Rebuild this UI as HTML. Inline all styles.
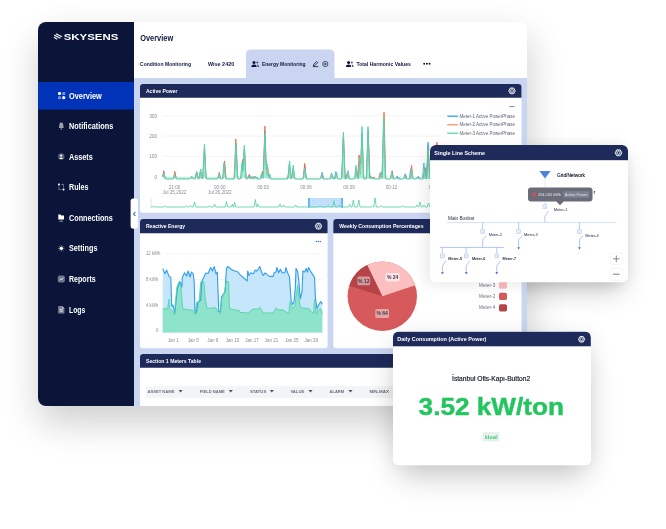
<!DOCTYPE html>
<html lang="en"><head><meta charset="utf-8"><title>Skysens Overview</title>
<style>
html,body{margin:0;padding:0;background:#fff;}
body{width:666px;height:529px;overflow:hidden;position:relative;font-family:"Liberation Sans",sans-serif;}
svg{position:absolute;left:0;top:0;display:block}
svg text{font-family:"Liberation Sans",sans-serif;white-space:pre}
.sh{position:absolute;}
</style></head><body>
<div class="sh" style="left:430px;top:145px;width:198px;height:137px;border-radius:6px;box-shadow:0 14px 26px -6px rgba(0,0,0,0.22), 0 0 18px rgba(0,0,0,0.045)"></div>
<div class="sh" style="left:38px;top:22px;width:489px;height:384px;border-radius:8px;box-shadow:0 18px 36px rgba(0,0,0,0.16), 8px 8px 46px rgba(0,0,0,0.045);background:#fff"></div>
<svg width="666" height="529" viewBox="0 0 666 529">
<defs><clipPath id="win"><rect x="38" y="22" width="489" height="384" rx="8" ry="8"/></clipPath><clipPath id="apclip"><rect x="160" y="100" width="361" height="112"/></clipPath><clipPath id="apclip2"><rect x="160" y="100" width="361" height="78.4"/></clipPath><pattern id="dots" width="2" height="2" patternUnits="userSpaceOnUse"><rect width="2" height="2" fill="#c4e2fb"/><rect width="1" height="1" fill="#b3d9f9"/></pattern></defs>
<g clip-path="url(#win)">
<rect x="38" y="22" width="489" height="384" fill="#fff"/>
<rect x="134" y="78" width="393" height="328" fill="#cad6f1"/>
<rect x="38" y="22" width="96" height="384" fill="#0a1539"/>
<rect x="38" y="82" width="96" height="27.5" fill="#0033b7"/>
<g stroke="#fff" stroke-width="1.25" stroke-linecap="butt" opacity="0.95"><path d="M56 33.7 L61.9 36.7 M54.3 35.1 L60.4 38.3 M53.9 37.3 L57.3 39.3" /></g>
<text x="63.7" y="40" font-size="8.7" font-weight="700" fill="#fff" textLength="54.6" lengthAdjust="spacingAndGlyphs">SKYSENS</text>
<text x="69.0" y="98.54" font-size="8.2" font-weight="700" fill="#fff" text-anchor="start" textLength="32.8" lengthAdjust="spacingAndGlyphs" >Overview</text>
<text x="69.0" y="128.94" font-size="8.2" font-weight="700" fill="#fff" text-anchor="start" textLength="44.2" lengthAdjust="spacingAndGlyphs" >Notifications</text>
<text x="69.0" y="159.54" font-size="8.2" font-weight="700" fill="#fff" text-anchor="start" textLength="23.8" lengthAdjust="spacingAndGlyphs" >Assets</text>
<text x="69.0" y="189.94" font-size="8.2" font-weight="700" fill="#fff" text-anchor="start" textLength="19.4" lengthAdjust="spacingAndGlyphs" >Rules</text>
<text x="69.0" y="220.54" font-size="8.2" font-weight="700" fill="#fff" text-anchor="start" textLength="43.8" lengthAdjust="spacingAndGlyphs" >Connections</text>
<text x="69.0" y="251.24" font-size="8.2" font-weight="700" fill="#fff" text-anchor="start" textLength="28.4" lengthAdjust="spacingAndGlyphs" >Settings</text>
<text x="69.0" y="281.94" font-size="8.2" font-weight="700" fill="#fff" text-anchor="start" textLength="26.7" lengthAdjust="spacingAndGlyphs" >Reports</text>
<text x="69.0" y="312.54" font-size="8.2" font-weight="700" fill="#fff" text-anchor="start" textLength="16.2" lengthAdjust="spacingAndGlyphs" >Logs</text>
<rect x="58" y="92" width="3.1" height="3.1" rx="1.3" fill="#fff"/><rect x="62.2" y="92" width="3" height="3" rx="0.6" fill="#fff" opacity="0.45"/><rect x="58" y="96.2" width="3" height="3" rx="0.6" fill="#fff" opacity="0.45"/><circle cx="63.7" cy="97.7" r="1.6" fill="#fff"/>
<path d="M58.9 128 Q59.3 126.6 59.3 125 Q59.3 122.6 61.3 122.6 Q63.3 122.6 63.3 125 Q63.3 126.6 63.7 128 Z" fill="#fff" opacity="0.6"/><rect x="60.5" y="128.6" width="1.6" height="1" rx="0.5" fill="#fff" opacity="0.8"/>
<circle cx="61.2" cy="156.6" r="3.3" fill="#fff" opacity="0.3"/><circle cx="61.2" cy="155.6" r="1.1" fill="#fff"/><path d="M59.3 159 Q61.2 156.2 63.1 159 Z" fill="#fff"/>
<g fill="#fff"><rect x="58" y="183.6" width="1.8" height="1.8" rx="0.4"/><rect x="62.6" y="188.6" width="1.8" height="1.8" rx="0.4"/></g><path d="M61 184.4 H63.5 V187.4 M58.9 186.6 V189.6 H61.4" fill="none" stroke="#fff" stroke-width="0.7" opacity="0.55"/>
<path d="M58.3 214.6 H60.5 L61.2 215.4 H64 V219.6 H58.3 Z" fill="#fff"/><path d="M61.2 219.6 V221.3 M59.3 221.3 H63.1" stroke="#fff" stroke-width="0.7" opacity="0.6"/>
<g stroke="#fff" stroke-width="0.9" opacity="0.42"><path d="M61.3 245 V251.6 M58 248.3 H64.6 M59 246 L63.6 250.6 M63.6 246 L59 250.6"/></g><circle cx="61.3" cy="248.3" r="1.6" fill="#fff"/>
<rect x="57.8" y="275.5" width="7" height="7" rx="1.7" fill="#fff" opacity="0.42"/><path d="M59.6 280.2 L60.9 278.8 L61.8 279.6 L63.2 277.8" stroke="#fff" stroke-width="0.8" fill="none"/>
<path d="M58.2 306 H62.2 L64.4 308.2 V313.4 H58.2 Z" fill="#fff" opacity="0.45"/><path d="M59.6 309.6 H62.8 M59.6 311.2 H62.8" stroke="#fff" stroke-width="0.7"/><path d="M62.2 306.3 V308.2 H64.1 Z" fill="#fff" opacity="0.85"/>
<text x="140.2" y="41.34" font-size="8.2" font-weight="700" fill="#0f1940" text-anchor="start" textLength="33.0" lengthAdjust="spacingAndGlyphs" >Overview</text>
<path d="M246 78 V54.6 Q246 49.6 251 49.6 H329.5 Q334.5 49.6 334.5 54.6 V78 Z" fill="#cad6f1"/>
<text x="140.0" y="65.93" font-size="5.4" font-weight="700" fill="#0f1940" text-anchor="start" textLength="51.0" lengthAdjust="spacingAndGlyphs" >Condition Monitoring</text>
<text x="208.0" y="65.93" font-size="5.4" font-weight="700" fill="#0f1940" text-anchor="start" textLength="26.2" lengthAdjust="spacingAndGlyphs" >Wise 2420</text>
<g fill="#0f1940"><circle cx="254.0" cy="62.4" r="1.5"/><path d="M251.4 66.9 Q251.4 64.5 254.0 64.5 Q256.6 64.5 256.6 66.9 Z"/><circle cx="257.3" cy="62.6" r="1" opacity="0.7"/><path d="M257.2 64.6 Q259.0 64.6 259.0 66.9 H257.4 Z" opacity="0.7"/></g>
<text x="262.0" y="65.93" font-size="5.4" font-weight="700" fill="#0f1940" text-anchor="start" textLength="43.6" lengthAdjust="spacingAndGlyphs" >Energy Monitoring</text>
<g stroke="#0f172a" stroke-width="0.8" fill="none"><path d="M313.4 65.8 L313.8 64.3 L316.6 61.5 L317.7 62.6 L314.9 65.4 Z"/><path d="M312.8 66.6 H318.2"/></g>
<circle cx="325.3" cy="64" r="2.6" fill="none" stroke="#0f172a" stroke-width="0.7"/><path d="M324.1 64 H326.5 M325.3 62.8 V65.2" stroke="#0f172a" stroke-width="0.7"/>
<g fill="#0f1940"><circle cx="348.6" cy="62.4" r="1.5"/><path d="M346 66.9 Q346 64.5 348.6 64.5 Q351.2 64.5 351.2 66.9 Z"/><circle cx="351.9" cy="62.6" r="1" opacity="0.7"/><path d="M351.8 64.6 Q353.6 64.6 353.6 66.9 H352 Z" opacity="0.7"/></g>
<text x="356.4" y="65.93" font-size="5.4" font-weight="700" fill="#0f1940" text-anchor="start" textLength="54.5" lengthAdjust="spacingAndGlyphs" >Total Harmonic Values</text>
<g fill="#0f172a"><circle cx="424.2" cy="63.8" r="0.95"/><circle cx="426.9" cy="63.8" r="0.95"/><circle cx="429.6" cy="63.8" r="0.95"/></g>
<rect x="140" y="84" width="381.5" height="128.7" rx="3" fill="#fff"/>
<path d="M140 97.7 V87 Q140 84 143 84 H518.5 Q521.5 84 521.5 87 V97.7 Z" fill="#1e2b5a"/>
<text x="146.0" y="92.98" font-size="5.4" font-weight="700" fill="#fff" text-anchor="start" textLength="31.5" lengthAdjust="spacingAndGlyphs" >Active Power</text>
<polygon points="515.30,90.85 513.65,93.71 510.35,93.71 508.70,90.85 510.35,87.99 513.65,87.99" fill="rgba(255,255,255,0.28)" stroke="#fff" stroke-width="0.85" stroke-linejoin="round"/><path d="M513.13 91.50 L514.57 92.33 M512.00 92.15 L512.00 93.82 M510.87 91.50 L509.43 92.33 M510.87 90.20 L509.43 89.36 M512.00 89.55 L512.00 87.88 M513.13 90.20 L514.57 89.36" stroke="#fff" stroke-width="0.5" opacity="0.8"/><circle cx="512" cy="90.85" r="1.25" fill="#1e2b5a" stroke="#fff" stroke-width="0.6"/>
<text x="157.2" y="117.72" font-size="4.8" font-weight="400" fill="#868c97" text-anchor="end" >300</text>
<path d="M162.8 115.8 H444.8" stroke="#e9ebef" stroke-width="0.6"/>
<text x="157.2" y="138.02" font-size="4.8" font-weight="400" fill="#868c97" text-anchor="end" >200</text>
<path d="M162.8 136.10000000000002 H444.8" stroke="#e9ebef" stroke-width="0.6"/>
<text x="157.2" y="158.32" font-size="4.8" font-weight="400" fill="#868c97" text-anchor="end" >100</text>
<path d="M162.8 156.4 H444.8" stroke="#e9ebef" stroke-width="0.6"/>
<text x="157.2" y="178.72" font-size="4.8" font-weight="400" fill="#868c97" text-anchor="end" >0</text>
<path d="M162.8 176.8 H444.8" stroke="#e9ebef" stroke-width="0.6"/>
<path d="M509.4 106.6 H514.5" stroke="#4a7bd6" stroke-width="0.9"/>
<path d="M447.3 116.3 H458" stroke="#45b0f6" stroke-width="1.5"/>
<text x="459.4" y="117.95" font-size="4.6" font-weight="400" fill="#5f6673" text-anchor="start" textLength="55.6" lengthAdjust="spacingAndGlyphs" >Meter-1 Active PowerPhase</text>
<path d="M447.3 124.8 H458" stroke="#f2643a" stroke-width="0.9"/>
<text x="459.4" y="126.45" font-size="4.6" font-weight="400" fill="#5f6673" text-anchor="start" textLength="55.6" lengthAdjust="spacingAndGlyphs" >Meter-2 Active PowerPhase</text>
<path d="M447.3 133.3 H458" stroke="#74dab8" stroke-width="1.4"/>
<text x="459.4" y="134.95" font-size="4.6" font-weight="400" fill="#5f6673" text-anchor="start" textLength="55.6" lengthAdjust="spacingAndGlyphs" >Meter-3 Active PowerPhase</text>
<text x="174.5" y="188.75" font-size="4.6" font-weight="400" fill="#868c97" text-anchor="middle" >21:00</text>
<text x="219.8" y="188.75" font-size="4.6" font-weight="400" fill="#868c97" text-anchor="middle" >00:00</text>
<text x="263.0" y="188.75" font-size="4.6" font-weight="400" fill="#868c97" text-anchor="middle" >00:03</text>
<text x="306.0" y="188.75" font-size="4.6" font-weight="400" fill="#868c97" text-anchor="middle" >00:06</text>
<text x="349.0" y="188.75" font-size="4.6" font-weight="400" fill="#868c97" text-anchor="middle" >00:09</text>
<text x="391.5" y="188.75" font-size="4.6" font-weight="400" fill="#868c97" text-anchor="middle" >00:12</text>
<text x="434.6" y="188.75" font-size="4.6" font-weight="400" fill="#868c97" text-anchor="middle" >00:15</text>
<text x="174.5" y="193.95" font-size="4.6" font-weight="400" fill="#868c97" text-anchor="middle" >Jul 25,2022</text>
<text x="219.8" y="193.95" font-size="4.6" font-weight="400" fill="#868c97" text-anchor="middle" >Jul 26,2022</text>
<g clip-path="url(#apclip)" fill="none" stroke-linejoin="round">
<polyline points="162.8,177.0 163.2,175.1 163.6,172.9 163.8,171.8 164.0,172.8 164.4,174.9 164.8,176.9 165.2,178.7 165.6,179.2 166.0,179.2 166.4,179.2 166.8,179.2 167.2,179.2 167.6,179.2 168.0,179.2 168.4,179.2 168.8,179.2 169.2,179.2 169.6,179.2 170.0,179.2 170.4,179.2 170.8,179.2 171.2,179.2 171.6,179.2 172.0,179.2 172.4,179.2 172.8,179.2 173.2,179.2 173.6,179.2 174.0,178.0 174.4,176.5 174.8,174.9 175.1,173.5 175.2,173.8 175.6,175.5 176.0,177.0 176.4,178.5 176.8,179.2 177.2,179.2 177.6,179.2 178.0,179.2 178.4,179.2 178.8,179.2 179.2,179.2 179.6,179.2 180.0,179.2 180.4,179.2 180.8,179.2 181.2,179.2 181.6,179.2 182.0,179.2 182.4,179.2 182.8,179.2 183.2,179.2 183.6,179.2 184.0,179.2 184.4,179.2 184.8,179.2 185.2,179.2 185.6,179.2 186.0,179.2 186.4,179.2 186.8,179.2 187.2,179.2 187.6,179.2 188.0,179.2 188.4,179.2 188.8,179.2 189.2,179.2 189.6,179.2 190.0,179.2 190.4,179.2 190.8,179.0 191.2,178.5 191.6,178.0 192.0,177.4 192.0,177.3 192.4,177.8 192.8,178.4 193.2,178.8 193.6,179.2 194.0,179.2 194.4,179.2 194.8,179.2 195.2,179.1 195.6,177.6 196.0,175.8 196.4,173.8 196.7,172.3 196.8,172.7 197.2,174.8 197.6,176.6 198.0,178.4 198.4,179.2 198.8,178.9 199.2,177.1 199.6,175.2 200.0,173.0 200.2,171.7 200.4,172.6 200.8,174.7 201.2,176.7 201.6,178.5 202.0,179.2 202.4,179.2 202.8,179.2 203.2,174.8 203.6,167.6 204.0,159.7 204.4,151.4 204.6,147.7 204.8,152.6 205.2,160.9 205.6,168.7 206.0,175.7 206.4,179.2 206.8,179.2 207.2,179.2 207.6,179.2 208.0,179.2 208.4,179.2 208.8,179.2 209.2,179.2 209.6,179.2 210.0,179.2 210.4,179.2 210.8,179.2 211.2,179.2 211.6,179.2 212.0,179.2 212.4,179.2 212.8,179.2 213.2,179.2 213.6,179.2 214.0,179.2 214.4,179.2 214.8,179.2 215.2,179.2 215.6,179.2 216.0,179.2 216.4,179.2 216.8,179.2 217.2,179.2 217.6,178.7 218.0,177.5 218.4,176.2 218.8,174.7 218.9,174.3 219.2,175.3 219.6,176.7 220.0,178.0 220.4,179.1 220.8,179.2 221.2,179.2 221.6,179.2 222.0,179.2 222.4,179.2 222.8,179.1 223.2,175.7 223.6,171.6 224.0,167.2 224.4,162.8 224.4,163.2 224.8,167.8 225.2,172.1 225.6,176.2 226.0,179.2 226.4,179.2 226.8,179.2 227.2,179.2 227.6,179.2 228.0,179.2 228.4,179.2 228.8,179.2 229.2,179.2 229.6,179.2 230.0,179.2 230.4,179.2 230.8,179.2 231.2,179.2 231.6,179.2 232.0,179.2 232.4,179.2 232.8,179.2 233.2,179.2 233.6,179.2 234.0,179.2 234.4,179.2 234.8,173.1 235.2,164.9 235.6,156.1 236.0,146.8 236.1,143.6 236.4,149.9 236.8,159.1 237.2,167.8 237.6,175.6 238.0,179.2 238.4,179.2 238.8,179.2 239.2,179.2 239.6,179.2 240.0,179.2 240.4,179.2 240.8,179.2 241.2,178.3 241.6,175.1 242.0,171.6 242.4,167.8 242.6,165.6 242.8,167.3 243.2,171.1 243.6,166.9 244.0,158.9 244.4,150.5 244.5,147.5 244.8,153.0 245.2,161.3 245.6,169.1 246.0,176.2 246.4,179.2 246.8,179.2 247.2,179.0 247.6,178.1 248.0,177.0 248.4,176.0 248.6,175.4 248.8,176.0 249.2,177.1 249.6,178.1 250.0,179.0 250.4,178.4 250.8,177.7 251.2,177.0 251.3,176.8 251.6,177.3 252.0,178.0 252.4,178.6 252.8,179.2 253.2,179.2 253.6,178.9 254.0,178.5 254.4,177.9 254.8,177.4 254.8,177.4 255.2,177.9 255.6,178.4 256.0,178.9 256.4,179.2 256.8,179.2 257.2,179.2 257.6,179.2 258.0,179.2 258.4,179.2 258.8,179.2 259.2,179.2 259.6,179.2 260.0,178.8 260.4,177.6 260.8,176.3 261.2,174.9 261.3,174.4 261.6,175.3 262.0,176.7 262.4,178.0 262.8,179.1 263.2,178.6 263.6,169.3 264.0,158.4 264.4,146.6 264.8,134.3 264.9,131.6 265.2,141.5 265.6,153.5 266.0,164.8 266.4,162.0 266.5,161.0 266.8,165.1 267.2,170.0 267.6,174.6 268.0,178.6 268.4,179.1 268.8,178.0 269.2,176.8 269.6,175.4 269.9,174.4 270.0,174.8 270.4,176.2 270.8,177.5 271.2,178.7 271.6,179.2 272.0,179.2 272.4,179.2 272.8,179.2 273.2,179.2 273.6,179.2 274.0,179.2 274.4,179.2 274.8,179.2 275.2,179.2 275.6,179.2 276.0,179.2 276.4,179.2 276.8,179.2 277.2,179.2 277.6,179.2 278.0,179.2 278.4,179.2 278.8,179.2 279.2,179.2 279.6,179.2 280.0,179.2 280.4,179.2 280.8,179.2 281.2,179.2 281.6,179.2 282.0,179.2 282.4,179.2 282.8,179.2 283.2,179.2 283.6,179.2 284.0,179.2 284.4,179.2 284.8,179.2 285.2,179.2 285.6,179.2 286.0,179.2 286.4,179.2 286.8,179.2 287.2,179.2 287.6,179.2 288.0,176.6 288.4,172.9 288.8,168.9 289.2,164.6 289.2,164.3 289.6,168.2 290.0,172.2 290.4,176.0 290.8,179.1 291.2,179.2 291.6,179.2 292.0,178.4 292.4,175.9 292.8,173.1 293.2,170.2 293.4,168.8 293.6,170.4 294.0,173.4 294.4,176.1 294.8,178.5 295.2,179.2 295.6,179.2 296.0,179.2 296.4,179.2 296.8,179.2 297.2,179.2 297.6,179.2 298.0,179.2 298.4,179.2 298.8,179.2 299.2,179.2 299.6,179.2 300.0,179.2 300.4,179.2 300.8,179.2 301.2,179.2 301.6,179.2 302.0,179.2 302.4,179.2 302.8,179.2 303.2,179.2 303.6,176.8 304.0,173.3 304.4,169.6 304.8,165.6 304.8,165.3 305.2,168.9 305.6,172.7 306.0,176.2 306.4,179.1 306.8,179.2 307.2,179.2 307.6,179.2 308.0,179.2 308.4,179.2 308.8,179.2 309.2,179.2 309.6,179.2 310.0,179.2 310.4,179.2 310.8,179.2 311.2,179.2 311.6,179.2 312.0,179.2 312.4,179.2 312.8,179.2 313.2,179.2 313.6,179.2 314.0,179.2 314.4,179.2 314.8,179.2 315.2,179.2 315.6,179.2 316.0,179.2 316.4,179.2 316.8,179.2 317.2,179.2 317.6,179.2 318.0,179.2 318.4,179.2 318.8,179.2 319.2,179.2 319.6,179.2 320.0,179.2 320.4,179.2 320.8,178.6 321.2,176.9 321.6,175.0 322.0,172.9 322.2,172.0 322.4,173.2 322.8,175.3 323.2,177.2 323.6,178.8 324.0,179.2 324.4,179.2 324.8,179.2 325.2,179.2 325.6,179.2 326.0,179.2 326.4,179.2 326.8,179.2 327.2,179.2 327.6,179.2 328.0,179.2 328.4,179.2 328.8,179.2 329.2,179.2 329.6,179.2 330.0,178.2 330.4,176.9 330.8,175.5 331.2,174.2 331.2,174.4 331.6,175.8 332.0,177.2 332.4,178.5 332.8,179.2 333.2,179.2 333.6,179.2 334.0,179.2 334.4,178.6 334.8,176.8 335.2,174.7 335.6,172.5 335.8,171.4 336.0,172.6 336.4,174.8 336.8,176.9 337.2,178.7 337.6,179.2 338.0,179.2 338.4,179.2 338.8,179.2 339.2,179.2 339.6,179.2 340.0,179.2 340.4,179.2 340.8,179.2 341.2,179.2 341.6,178.6 342.0,170.5 342.4,161.0 342.8,150.7 343.2,140.0 343.3,137.9 343.6,146.6 344.0,157.0 344.4,166.8 344.8,175.7 345.2,179.2 345.6,179.2 346.0,179.2 346.4,179.2 346.8,178.1 347.2,176.1 347.6,173.8 348.0,171.3 348.1,170.7 348.4,172.6 348.8,175.0 349.2,177.2 349.6,179.1 350.0,179.2 350.4,179.2 350.8,179.2 351.2,179.2 351.6,179.2 352.0,179.2 352.4,179.2 352.8,179.2 353.2,179.2 353.6,179.2 354.0,179.2 354.4,179.2 354.8,178.5 355.2,176.1 355.6,173.4 356.0,170.5 356.2,168.9 356.4,170.4 356.8,173.3 357.2,176.0 357.6,178.4 358.0,179.2 358.4,176.1 358.8,172.3 359.2,168.3 359.6,164.2 359.6,164.3 360.0,168.6 360.4,172.7 360.8,168.4 361.2,157.7 361.6,146.3 362.0,134.3 362.0,133.2 362.4,144.2 362.8,155.7 363.2,166.6 363.6,176.2 364.0,179.2 364.4,179.2 364.8,179.2 365.2,179.2 365.6,179.2 366.0,179.2 366.4,178.4 366.8,168.8 367.2,157.4 367.6,145.2 368.0,132.4 368.1,129.8 368.4,140.3 368.8,152.7 369.2,164.4 369.6,175.0 370.0,177.0 370.4,176.1 370.4,176.0 370.8,176.9 371.2,177.8 371.6,178.6 372.0,179.2 372.4,179.2 372.8,179.2 373.2,179.2 373.6,179.2 374.0,179.2 374.4,179.2 374.8,179.2 375.2,179.2 375.6,179.2 376.0,179.2 376.4,179.2 376.8,179.2 377.2,179.2 377.6,179.2 378.0,179.2 378.4,179.2 378.8,179.2 379.2,179.2 379.6,179.2 380.0,178.1 380.4,176.3 380.8,174.3 381.2,172.2 381.2,172.0 381.6,173.9 382.0,175.9 382.4,163.7 382.8,149.7 383.2,134.8 383.6,119.7 383.6,120.2 384.0,135.8 384.4,150.6 384.8,164.5 385.2,176.6 385.6,179.2 386.0,179.2 386.4,179.2 386.8,179.2 387.2,179.2 387.6,179.2 388.0,179.2 388.4,179.2 388.8,179.2 389.2,179.2 389.6,179.2 390.0,179.2 390.4,179.2 390.8,178.2 391.2,176.4 391.6,174.3 392.0,172.2 392.1,171.8 392.4,173.6 392.8,175.7 393.2,177.6 393.6,179.2 394.0,179.2 394.4,179.2 394.8,179.2 395.2,179.2 395.6,179.2 396.0,178.7 396.4,177.9 396.8,177.0 397.2,176.1 397.2,176.0 397.6,176.9 398.0,177.8 398.4,178.6 398.8,179.2 399.2,179.2 399.6,179.2 400.0,179.2 400.4,179.2 400.8,179.2 401.2,179.2 401.6,179.2 402.0,179.2 402.4,179.2 402.8,179.2 403.2,179.2 403.6,179.2 404.0,178.0 404.4,176.6 404.8,175.1 405.1,173.8 405.2,174.1 405.6,175.7 406.0,177.1 406.4,178.5 406.8,179.2 407.2,179.2 407.6,179.2 408.0,179.2 408.4,179.2 408.8,179.2 409.2,178.7 409.6,176.3 410.0,173.6 410.4,170.6 410.6,168.8 410.8,170.0 411.2,172.9 411.6,175.7 412.0,178.2 412.4,179.2 412.8,179.2 413.2,179.2 413.6,179.2 414.0,179.2 414.4,179.2 414.8,179.2 415.2,179.2 415.6,179.2 416.0,179.2 416.4,179.1 416.8,178.5 417.2,177.9 417.6,177.2 417.8,176.9 418.0,177.2 418.4,177.9 418.8,178.5 419.2,179.1 419.6,179.2 420.0,179.2 420.4,179.2 420.8,179.2 421.2,179.2 421.6,179.2 422.0,179.2 422.4,178.2 422.8,174.5 423.2,170.4 423.6,165.9 423.9,163.0 424.0,164.7 424.4,169.2 424.8,173.5 425.2,177.3 425.6,179.2 426.0,179.2 426.4,178.8 426.8,171.7 427.2,163.4 427.6,154.5 428.0,145.1 428.1,143.5 428.4,151.5 428.8,160.6 429.2,169.1 429.6,176.7 430.0,179.2 430.4,179.2 430.8,179.2 431.2,179.2 431.6,179.2 432.0,179.2 432.4,179.2 432.8,179.2 433.2,179.2 433.6,179.2 434.0,179.2 434.4,179.2 434.8,179.2 435.2,173.5 435.6,166.6 436.0,159.1 436.4,151.2 436.5,150.0 436.8,156.7 437.2,164.3 437.6,171.5 438.0,177.7 438.4,179.2 438.8,179.2 439.2,179.2 439.6,179.2" stroke="#52aef3" stroke-width="0.9" clip-path="url(#apclip2)"/>
<polyline points="162.8,176.3 163.2,174.0 163.6,171.6 163.7,170.7 164.0,172.3 164.4,174.7 164.8,177.0 165.2,178.9 165.6,179.2 166.0,179.2 166.4,179.2 166.8,179.2 167.2,179.2 167.6,179.2 168.0,179.2 168.4,179.2 168.8,179.2 169.2,179.2 169.6,179.2 170.0,179.2 170.4,179.2 170.8,179.2 171.2,179.2 171.6,179.2 172.0,179.2 172.4,179.2 172.8,179.2 173.2,179.2 173.6,178.0 174.0,176.0 174.4,173.9 174.8,171.6 174.8,171.4 175.2,173.5 175.6,175.7 176.0,177.7 176.4,179.2 176.8,179.2 177.2,179.2 177.6,179.2 178.0,179.2 178.4,179.2 178.8,179.2 179.2,179.2 179.6,179.2 180.0,179.2 180.4,179.2 180.8,179.2 181.2,179.2 181.6,179.2 182.0,179.2 182.4,179.2 182.8,179.2 183.2,179.2 183.6,179.2 184.0,179.2 184.4,179.2 184.8,179.2 185.2,179.2 185.6,179.2 186.0,179.2 186.4,179.2 186.8,179.2 187.2,179.2 187.6,179.2 188.0,179.2 188.4,179.2 188.8,179.2 189.2,179.2 189.6,179.2 190.0,179.2 190.4,179.2 190.8,179.2 191.2,178.7 191.6,178.1 192.0,177.5 192.3,177.1 192.4,177.3 192.8,177.9 193.2,178.5 193.6,179.0 194.0,179.2 194.4,179.2 194.8,179.2 195.2,179.2 195.6,177.9 196.0,176.1 196.4,174.2 196.8,172.2 196.8,172.3 197.2,174.4 197.6,176.3 198.0,178.1 198.4,179.2 198.8,178.2 199.2,176.8 199.6,175.2 200.0,173.6 200.0,173.5 200.4,175.2 200.8,176.8 201.2,178.2 201.6,179.2 202.0,179.2 202.4,179.2 202.8,178.0 203.2,171.7 203.6,164.4 204.0,156.6 204.4,149.1 204.4,149.7 204.8,157.8 205.2,165.5 205.6,172.7 206.0,178.8 206.4,179.2 206.8,179.2 207.2,179.2 207.6,179.2 208.0,179.2 208.4,179.2 208.8,179.2 209.2,179.2 209.6,179.2 210.0,179.2 210.4,179.2 210.8,179.2 211.2,179.2 211.6,179.2 212.0,179.2 212.4,179.2 212.8,179.2 213.2,179.2 213.6,179.2 214.0,179.2 214.4,179.2 214.8,179.2 215.2,179.2 215.6,179.2 216.0,179.2 216.4,179.2 216.8,179.2 217.2,179.2 217.6,179.2 218.0,178.4 218.4,176.7 218.8,174.8 219.2,172.9 219.3,172.4 219.6,173.9 220.0,175.9 220.4,177.6 220.8,179.1 221.2,179.2 221.6,179.2 222.0,179.2 222.4,179.2 222.8,179.2 223.2,177.6 223.6,173.4 224.0,168.7 224.4,163.7 224.6,161.0 224.8,163.4 225.2,168.4 225.6,173.2 226.0,177.4 226.4,179.2 226.8,179.2 227.2,179.2 227.6,179.2 228.0,179.2 228.4,179.2 228.8,179.2 229.2,179.2 229.6,179.2 230.0,179.2 230.4,179.2 230.8,179.2 231.2,179.2 231.6,179.2 232.0,179.2 232.4,179.2 232.8,179.2 233.2,179.2 233.6,179.2 234.0,179.2 234.4,173.0 234.8,164.0 235.2,154.2 235.6,143.9 235.8,139.0 236.0,144.7 236.4,155.0 236.8,164.7 237.2,173.6 237.6,179.2 238.0,179.2 238.4,179.2 238.8,179.2 239.2,179.2 239.6,179.2 240.0,179.2 240.4,179.2 240.8,179.2 241.2,179.2 241.6,175.4 242.0,170.5 242.4,165.3 242.8,159.7 242.8,159.4 243.2,164.6 243.6,163.1 244.0,155.3 244.3,149.6 244.4,151.9 244.8,159.8 245.2,167.3 245.6,174.3 246.0,179.2 246.4,179.2 246.8,179.2 247.2,179.2 247.6,179.2 248.0,179.2 248.4,178.1 248.8,176.8 249.2,175.4 249.5,174.3 249.6,174.7 250.0,176.1 250.4,177.4 250.8,178.6 251.2,179.0 251.6,178.5 252.0,178.0 252.4,177.5 252.5,177.4 252.8,177.9 253.2,178.4 253.6,178.8 254.0,179.2 254.4,179.2 254.8,178.8 255.2,178.3 255.6,177.8 255.9,177.3 256.0,177.4 256.4,178.0 256.8,178.5 257.2,179.0 257.6,179.2 258.0,179.2 258.4,179.2 258.8,179.2 259.2,179.2 259.6,179.2 260.0,179.2 260.4,179.2 260.8,179.2 261.2,177.9 261.6,175.9 262.0,173.8 262.4,171.5 262.4,171.4 262.8,173.6 263.2,175.7 263.6,167.4 264.0,155.1 264.4,142.0 264.8,128.2 264.9,126.2 265.2,138.1 265.6,151.5 266.0,164.0 266.4,175.2 266.8,174.7 267.2,171.5 267.6,168.1 267.7,167.3 268.0,169.9 268.3,172.2 268.4,173.2 268.8,175.3 269.2,177.0 269.6,178.6 270.0,179.2 270.4,179.2 270.8,179.2 271.2,179.2 271.6,179.2 272.0,179.2 272.4,179.2 272.8,179.2 273.2,179.2 273.6,179.2 274.0,179.2 274.4,179.2 274.8,179.2 275.2,179.2 275.6,179.2 276.0,179.2 276.4,179.2 276.8,179.2 277.2,179.2 277.6,179.2 278.0,179.2 278.4,179.2 278.8,179.2 279.2,179.2 279.6,179.2 280.0,179.2 280.4,179.2 280.8,179.2 281.2,179.2 281.6,179.2 282.0,179.2 282.4,179.2 282.8,179.2 283.2,179.2 283.6,179.2 284.0,179.2 284.4,179.2 284.8,179.2 285.2,179.2 285.6,179.2 286.0,179.2 286.4,179.2 286.8,179.2 287.2,179.2 287.6,179.2 288.0,177.6 288.4,174.8 288.8,171.6 289.2,168.3 289.3,167.5 289.6,170.1 290.0,173.4 290.4,176.4 290.8,178.9 291.2,179.2 291.6,177.5 292.0,175.4 292.4,173.2 292.7,171.2 292.8,171.5 293.2,173.9 293.6,176.1 294.0,178.1 294.4,179.2 294.8,179.2 295.2,179.2 295.6,179.2 296.0,179.2 296.4,179.2 296.8,179.2 297.2,179.2 297.6,179.2 298.0,179.2 298.4,179.2 298.8,179.2 299.2,179.2 299.6,179.2 300.0,179.2 300.4,179.2 300.8,179.2 301.2,179.2 301.6,179.2 302.0,179.2 302.4,179.2 302.8,179.2 303.2,178.4 303.6,174.9 304.0,170.8 304.4,166.5 304.7,163.5 304.8,165.0 305.2,169.3 305.6,173.5 306.0,177.2 306.4,179.2 306.8,179.2 307.2,179.2 307.6,179.2 308.0,179.2 308.4,179.2 308.8,179.2 309.2,179.2 309.6,179.2 310.0,179.2 310.4,179.2 310.8,179.2 311.2,179.2 311.6,179.2 312.0,179.2 312.4,179.2 312.8,179.2 313.2,179.2 313.6,179.2 314.0,179.2 314.4,179.2 314.8,179.2 315.2,179.2 315.6,179.2 316.0,179.2 316.4,179.2 316.8,179.2 317.2,179.2 317.6,179.2 318.0,179.2 318.4,179.2 318.8,179.2 319.2,179.2 319.6,179.2 320.0,179.2 320.4,179.2 320.8,179.2 321.2,178.3 321.6,177.2 322.0,175.9 322.3,174.9 322.4,175.1 322.8,176.3 323.2,177.5 323.6,178.6 324.0,179.2 324.4,179.2 324.8,179.2 325.2,179.2 325.6,179.2 326.0,179.2 326.4,179.2 326.8,179.2 327.2,179.2 327.6,179.2 328.0,179.2 328.4,179.2 328.8,179.2 329.2,179.2 329.6,179.2 330.0,179.2 330.4,179.2 330.8,179.2 331.2,178.8 331.6,177.8 332.0,176.8 332.4,175.6 332.5,175.4 332.8,176.3 333.2,177.3 333.6,178.3 334.0,179.2 334.4,179.2 334.8,179.2 335.2,178.0 335.6,176.5 336.0,174.8 336.4,173.3 336.4,173.4 336.8,175.2 337.2,176.8 337.6,178.3 338.0,179.2 338.4,179.2 338.8,179.2 339.2,179.2 339.6,179.2 340.0,179.2 340.4,179.2 340.8,179.2 341.2,179.2 341.6,179.2 342.0,175.0 342.4,165.4 342.8,154.9 343.2,143.6 343.5,134.8 343.6,137.7 344.0,149.2 344.4,160.1 344.8,170.3 345.2,178.8 345.6,179.2 346.0,178.0 346.4,176.5 346.8,174.9 347.1,173.7 347.2,174.0 347.6,175.6 348.0,177.1 348.4,178.5 348.8,179.2 349.2,179.2 349.6,179.2 350.0,179.2 350.4,179.2 350.8,179.2 351.2,179.2 351.6,179.2 352.0,179.2 352.4,179.2 352.8,179.2 353.2,179.2 353.6,179.2 354.0,179.2 354.4,179.2 354.8,179.2 355.2,178.8 355.6,176.8 356.0,174.5 356.4,172.0 356.6,170.5 356.8,171.6 357.2,174.0 357.6,176.4 358.0,172.9 358.4,166.9 358.8,160.5 359.1,155.0 359.2,156.2 359.6,162.8 360.0,169.1 360.4,174.9 360.8,166.0 361.2,155.2 361.6,143.7 361.9,133.8 362.0,135.7 362.4,147.6 362.8,158.8 363.2,169.3 363.6,178.3 364.0,179.2 364.4,179.2 364.8,179.2 365.2,179.2 365.6,179.2 366.0,179.2 366.4,179.2 366.8,173.3 367.2,163.0 367.6,151.7 368.0,139.8 368.2,132.3 368.4,137.3 368.8,149.4 369.2,160.8 369.6,171.3 370.0,177.9 370.4,177.4 370.5,177.3 370.8,177.8 371.2,178.3 371.6,178.8 372.0,179.2 372.4,179.2 372.8,179.2 373.2,179.2 373.6,179.2 374.0,179.2 374.4,179.2 374.8,179.2 375.2,179.2 375.6,179.2 376.0,179.2 376.4,179.2 376.8,179.2 377.2,179.2 377.6,179.2 378.0,179.2 378.4,179.2 378.8,178.6 379.2,177.0 379.6,175.3 380.0,173.5 380.1,172.8 380.4,174.0 380.8,175.9 381.2,177.5 381.6,179.0 382.0,179.2 382.4,177.4 382.8,164.0 383.2,148.5 383.6,131.9 384.0,114.5 384.0,112.3 384.4,127.7 384.8,144.5 385.2,160.3 385.6,174.4 386.0,179.2 386.4,179.2 386.8,179.2 387.2,179.2 387.6,179.2 388.0,179.2 388.4,179.2 388.8,179.2 389.2,179.2 389.6,179.2 390.0,179.2 390.4,179.2 390.8,178.3 391.2,176.2 391.6,173.9 392.0,171.5 392.1,170.7 392.4,172.4 392.8,174.8 393.2,177.0 393.6,178.9 394.0,179.2 394.4,179.2 394.8,179.2 395.2,179.2 395.6,178.9 396.0,178.3 396.4,177.7 396.8,177.1 396.8,177.0 397.2,177.6 397.6,178.2 398.0,178.8 398.4,179.2 398.8,179.2 399.2,179.2 399.6,179.2 400.0,179.2 400.4,179.2 400.8,179.2 401.2,179.2 401.6,179.2 402.0,179.2 402.4,179.2 402.8,179.2 403.2,179.2 403.6,179.2 404.0,179.2 404.4,178.6 404.8,177.5 405.2,176.2 405.6,174.9 405.7,174.7 406.0,175.9 406.4,177.1 406.8,178.3 407.2,179.2 407.6,179.2 408.0,179.2 408.4,179.2 408.8,179.2 409.2,179.2 409.6,179.2 410.0,179.2 410.4,176.5 410.8,173.0 411.2,169.3 411.6,165.4 411.6,165.4 412.0,169.4 412.4,173.1 412.8,176.6 413.2,179.2 413.6,179.2 414.0,179.2 414.4,179.2 414.8,179.2 415.2,179.2 415.6,179.2 416.0,179.2 416.4,179.2 416.8,179.2 417.2,178.8 417.6,178.1 418.0,177.3 418.4,176.5 418.4,176.5 418.8,177.3 419.2,178.0 419.6,178.7 420.0,179.2 420.4,179.2 420.8,179.2 421.2,179.2 421.6,179.2 422.0,179.2 422.4,179.2 422.8,179.2 423.2,179.2 423.6,179.2 424.0,177.1 424.4,174.3 424.8,171.2 425.2,167.9 425.2,167.8 425.6,171.0 426.0,174.1 426.4,177.0 426.8,174.8 427.2,167.4 427.6,159.3 428.0,150.8 428.2,146.6 428.4,151.2 428.8,159.7 429.2,167.8 429.6,175.2 430.0,179.2 430.4,179.2 430.8,179.2 431.2,179.2 431.6,179.2 432.0,179.2 432.4,179.2 432.8,179.2 433.2,179.2 433.6,179.2 434.0,179.2 434.4,179.2 434.8,179.2 435.2,179.2 435.6,179.2 436.0,179.2 436.4,175.1 436.8,169.8 437.2,163.9 437.6,157.8 437.7,156.9 438.0,162.2 438.4,168.1 438.8,173.7 439.2,178.5 439.6,179.2" stroke="#f0633e" stroke-width="0.9" clip-path="url(#apclip2)"/>
<path d="M250.5 177.6 H258 M396 177.8 H400.5 M415.5 177.8 H420.5 M286 178 H288" stroke="#52aef3" stroke-width="0.9"/>
<path d="M253 177 H256 M372 177.6 H375 M436.3 147 L436.9 142.4 L437.5 147" stroke="#f0633e" stroke-width="0.9"/>
<path d="M427.6 150 L428.2 142 L428.8 150" stroke="#52aef3" stroke-width="0.9"/>
<polyline points="162.8,177.0 163.2,175.4 163.6,173.7 163.8,172.8 164.0,173.6 164.4,175.4 164.8,177.1 165.2,178.4 165.6,179.2 166.0,179.2 166.4,179.1 166.8,179.1 167.2,179.1 167.6,179.1 168.0,179.1 168.4,179.2 168.8,179.1 169.2,179.1 169.6,179.1 170.0,179.1 170.4,179.1 170.8,179.2 171.2,179.1 171.6,179.1 172.0,179.2 172.4,179.2 172.8,179.1 173.2,178.6 173.6,177.5 174.0,176.2 174.4,175.0 174.6,174.3 174.8,175.0 175.2,176.3 175.6,177.5 176.0,178.6 176.4,179.1 176.8,179.2 177.2,179.2 177.6,179.2 178.0,179.1 178.4,179.1 178.8,179.1 179.2,179.2 179.6,179.1 180.0,179.1 180.4,179.1 180.8,179.1 181.2,179.1 181.6,179.1 182.0,179.1 182.4,179.1 182.8,179.1 183.2,179.1 183.6,179.1 184.0,179.2 184.4,179.1 184.8,179.1 185.2,179.1 185.6,179.1 186.0,179.1 186.4,179.2 186.8,179.1 187.2,179.1 187.6,179.2 188.0,179.2 188.4,179.1 188.8,179.1 189.2,179.2 189.6,179.1 190.0,179.1 190.4,178.7 190.8,177.9 191.2,177.0 191.6,176.1 191.7,176.0 192.0,176.6 192.4,177.5 192.8,178.2 193.2,179.0 193.6,179.1 194.0,179.1 194.4,179.1 194.8,179.1 195.2,177.9 195.6,176.0 196.0,174.0 196.4,171.9 196.5,171.4 196.8,172.9 197.2,175.0 197.6,177.0 198.0,178.7 198.4,179.1 198.8,179.2 199.2,178.8 199.6,176.7 200.0,174.4 200.4,171.7 200.8,168.9 200.8,168.9 201.2,171.7 201.6,174.3 202.0,176.8 202.4,178.8 202.8,176.2 203.2,169.2 203.6,161.3 204.0,153.0 204.4,144.3 204.4,144.2 204.8,152.9 205.2,161.3 205.6,169.2 206.0,176.2 206.4,179.1 206.8,179.2 207.2,179.1 207.6,179.1 208.0,179.2 208.4,179.1 208.8,179.1 209.2,179.1 209.6,179.1 210.0,179.1 210.4,179.1 210.8,179.2 211.2,179.2 211.6,179.1 212.0,179.1 212.4,179.2 212.8,179.1 213.2,179.1 213.6,179.2 214.0,179.1 214.4,179.2 214.8,179.1 215.2,179.1 215.6,179.2 216.0,179.1 216.4,179.1 216.8,179.2 217.2,179.1 217.6,178.5 218.0,177.4 218.4,176.1 218.8,174.6 219.0,173.9 219.2,174.6 219.6,176.0 220.0,177.3 220.4,178.6 220.8,179.2 221.2,179.1 221.6,179.1 222.0,179.1 222.4,178.5 222.8,175.2 223.2,171.3 223.6,167.1 224.0,162.7 224.0,162.8 224.4,167.1 224.8,171.3 225.2,175.1 225.6,178.6 226.0,179.1 226.4,179.1 226.8,179.2 227.2,179.2 227.6,179.1 228.0,179.1 228.4,179.1 228.8,179.1 229.2,179.2 229.6,179.2 230.0,179.1 230.4,179.2 230.8,179.1 231.2,179.1 231.6,179.1 232.0,179.1 232.4,179.1 232.8,179.2 233.2,179.2 233.6,179.1 234.0,179.1 234.4,176.0 234.8,169.0 235.2,160.9 235.6,152.5 236.0,143.8 236.0,143.7 236.4,152.5 236.8,161.0 237.2,169.0 237.6,176.1 238.0,179.1 238.4,179.2 238.8,179.2 239.2,179.1 239.6,179.2 240.0,179.1 240.4,178.5 240.8,175.0 241.2,171.0 241.6,166.8 242.0,162.3 242.0,162.3 242.4,166.8 242.8,171.1 243.2,167.7 243.6,160.0 244.0,151.8 244.3,145.4 244.4,147.6 244.8,155.9 245.2,163.9 245.6,171.4 246.0,177.9 246.4,179.2 246.8,179.1 247.2,179.1 247.6,178.8 248.0,178.2 248.4,177.5 248.8,176.7 249.0,176.3 249.2,176.8 249.6,177.4 250.0,178.1 250.4,178.8 250.8,178.5 251.2,178.0 251.6,177.2 252.0,176.4 252.0,176.5 252.4,177.2 252.8,177.9 253.2,178.6 253.6,179.1 254.0,178.8 254.4,178.0 254.8,177.3 255.2,176.4 255.4,176.0 255.6,176.4 256.0,177.3 256.4,178.0 256.8,178.8 257.2,179.2 257.6,179.1 258.0,179.2 258.4,179.2 258.8,179.1 259.2,179.1 259.6,179.1 260.0,179.1 260.4,179.1 260.8,178.0 261.2,176.6 261.6,175.1 262.0,173.6 262.0,173.6 262.4,175.2 262.8,176.6 263.2,177.9 263.6,170.2 264.0,160.4 264.4,149.8 264.8,138.7 265.0,133.0 265.2,138.7 265.6,149.8 266.0,160.4 266.4,170.0 266.8,166.0 267.0,164.0 267.2,166.0 267.6,170.0 268.0,173.7 268.4,176.0 268.8,174.7 269.0,173.9 269.2,174.6 269.6,176.0 270.0,177.3 270.4,178.6 270.8,179.1 271.2,179.1 271.6,179.2 272.0,179.1 272.4,179.2 272.8,179.1 273.2,179.1 273.6,179.1 274.0,179.1 274.4,179.1 274.8,179.1 275.2,179.1 275.6,179.2 276.0,179.1 276.4,179.2 276.8,179.2 277.2,179.1 277.6,179.2 278.0,179.2 278.4,179.2 278.8,179.1 279.2,179.2 279.6,179.2 280.0,179.1 280.4,179.2 280.8,179.1 281.2,179.1 281.6,179.1 282.0,179.1 282.4,179.1 282.8,179.1 283.2,179.2 283.6,179.1 284.0,179.1 284.4,179.1 284.8,179.2 285.2,179.1 285.6,179.1 286.0,179.2 286.4,179.2 286.8,179.1 287.2,179.1 287.6,179.2 288.0,178.4 288.4,174.6 288.8,170.3 289.2,165.7 289.6,160.9 289.6,160.9 290.0,165.7 290.4,170.3 290.8,174.6 291.2,178.4 291.6,178.7 292.0,175.8 292.4,172.6 292.8,169.0 293.2,165.4 293.2,165.3 293.6,169.0 294.0,172.5 294.4,175.8 294.8,178.7 295.2,179.1 295.6,179.1 296.0,179.2 296.4,179.2 296.8,179.1 297.2,179.1 297.6,179.1 298.0,179.1 298.4,179.1 298.8,179.2 299.2,179.2 299.6,179.2 300.0,179.1 300.4,179.2 300.8,179.2 301.2,179.1 301.6,179.1 302.0,179.2 302.4,179.1 302.8,179.1 303.2,178.3 303.6,175.9 304.0,173.2 304.4,170.3 304.7,168.1 304.8,168.8 305.2,171.8 305.6,174.6 306.0,177.2 306.4,179.2 306.8,179.1 307.2,179.2 307.6,179.1 308.0,179.1 308.4,179.1 308.8,179.1 309.2,179.1 309.6,179.1 310.0,179.1 310.4,179.1 310.8,179.1 311.2,179.1 311.6,179.1 312.0,179.1 312.4,179.1 312.8,179.1 313.2,179.2 313.6,179.2 314.0,179.1 314.4,179.1 314.8,179.1 315.2,179.1 315.6,179.2 316.0,179.2 316.4,179.2 316.8,179.2 317.2,179.1 317.6,179.1 318.0,179.1 318.4,179.2 318.8,179.1 319.2,179.2 319.6,179.1 320.0,179.1 320.4,178.2 320.8,177.2 321.2,175.9 321.6,174.7 321.6,174.7 322.0,175.9 322.4,177.1 322.8,178.3 323.2,179.1 323.6,179.1 324.0,179.1 324.4,179.2 324.8,179.1 325.2,179.1 325.6,179.1 326.0,179.1 326.4,179.2 326.8,179.2 327.2,179.1 327.6,179.2 328.0,179.1 328.4,179.1 328.8,179.2 329.2,179.1 329.6,179.1 330.0,179.1 330.4,178.1 330.8,176.7 331.2,175.0 331.6,173.3 331.7,172.9 332.0,174.2 332.4,175.8 332.8,177.3 333.2,178.7 333.6,179.1 334.0,179.2 334.4,179.1 334.8,179.1 335.2,178.0 335.6,176.4 336.0,174.7 336.4,172.9 336.5,172.4 336.8,173.8 337.2,175.6 337.6,177.2 338.0,178.7 338.4,179.2 338.8,179.1 339.2,179.2 339.6,179.2 340.0,179.1 340.4,179.1 340.8,179.1 341.2,179.1 341.6,178.6 342.0,170.1 342.4,160.1 342.8,149.4 343.2,138.0 343.4,132.2 343.6,138.0 344.0,149.3 344.4,160.1 344.8,170.1 345.2,178.6 345.6,179.1 346.0,179.2 346.4,178.1 346.8,176.6 347.2,174.8 347.6,173.1 347.7,172.7 348.0,174.0 348.4,175.7 348.8,177.3 349.2,178.8 349.6,179.1 350.0,179.2 350.4,179.2 350.8,179.2 351.2,179.2 351.6,179.1 352.0,179.1 352.4,179.2 352.8,179.2 353.2,179.1 353.6,179.1 354.0,179.1 354.4,178.7 354.8,175.8 355.2,172.6 355.6,169.0 356.0,165.4 356.0,165.3 356.4,169.0 356.8,172.6 357.2,175.9 357.6,178.7 358.0,179.2 358.4,178.0 358.8,173.7 359.2,168.8 359.6,163.6 360.0,158.0 360.0,158.0 360.4,163.5 360.8,163.5 361.2,151.9 361.6,139.6 362.0,126.6 362.0,126.6 362.4,139.5 362.8,151.9 363.2,163.6 363.6,174.0 364.0,179.1 364.4,179.1 364.8,179.1 365.2,179.1 365.6,179.2 366.0,179.1 366.4,174.1 366.8,163.5 367.2,151.9 367.6,139.5 368.0,126.6 368.0,126.6 368.4,139.5 368.8,151.9 369.2,163.5 369.6,174.1 370.0,178.8 370.4,178.2 370.8,177.6 371.2,176.9 371.3,176.7 371.6,177.2 372.0,177.9 372.4,178.4 372.8,179.0 373.2,179.2 373.6,179.1 374.0,179.1 374.4,179.1 374.8,179.1 375.2,179.1 375.6,179.1 376.0,179.1 376.4,179.1 376.8,179.1 377.2,179.1 377.6,179.1 378.0,179.1 378.4,179.2 378.8,179.2 379.2,179.2 379.6,178.6 380.0,177.2 380.4,175.7 380.8,174.2 381.0,173.4 381.2,174.2 381.6,175.7 382.0,177.2 382.4,167.2 382.8,154.0 383.2,139.8 383.6,124.9 383.8,117.1 384.0,124.8 384.4,139.8 384.8,154.0 385.2,167.2 385.6,178.4 386.0,179.2 386.4,179.2 386.8,179.2 387.2,179.1 387.6,179.2 388.0,179.1 388.4,179.2 388.8,179.2 389.2,179.2 389.6,179.1 390.0,179.2 390.4,178.1 390.8,176.4 391.2,174.7 391.6,172.7 391.7,172.3 392.0,173.8 392.4,175.5 392.8,177.2 393.2,178.7 393.6,179.2 394.0,179.1 394.4,179.1 394.8,179.2 395.2,178.6 395.6,178.1 396.0,177.4 396.4,176.5 396.5,176.4 396.8,176.9 397.2,177.7 397.6,178.4 398.0,179.1 398.4,179.1 398.8,179.2 399.2,179.1 399.6,179.1 400.0,179.1 400.4,179.2 400.8,179.2 401.2,179.2 401.6,179.1 402.0,179.1 402.4,179.1 402.8,179.2 403.2,179.1 403.6,178.7 404.0,177.9 404.4,177.0 404.8,176.0 405.0,175.4 405.2,175.9 405.6,177.0 406.0,177.9 406.4,178.7 406.8,179.1 407.2,179.2 407.6,179.1 408.0,179.1 408.4,179.1 408.8,179.1 409.2,179.1 409.6,179.2 410.0,178.0 410.4,175.9 410.8,173.4 411.2,171.0 411.4,169.7 411.6,170.9 412.0,173.6 412.4,175.9 412.8,178.0 413.2,179.1 413.6,179.1 414.0,179.2 414.4,179.1 414.8,179.1 415.2,179.1 415.6,179.1 416.0,179.1 416.4,179.1 416.8,178.6 417.2,178.1 417.6,177.3 418.0,176.7 418.0,176.7 418.4,177.4 418.8,178.0 419.2,178.6 419.6,179.1 420.0,179.1 420.4,179.1 420.8,179.2 421.2,179.1 421.6,179.2 422.0,179.1 422.4,179.1 422.8,179.1 423.2,177.7 423.6,174.9 424.0,171.8 424.4,168.6 424.6,166.9 424.8,168.5 425.2,171.8 425.6,174.8 426.0,177.6 426.4,179.1 426.8,173.9 427.2,167.2 427.6,159.9 428.0,152.2 428.2,148.4 428.4,152.3 428.8,160.0 429.2,167.2 429.6,173.8 430.0,179.2 430.4,179.2 430.8,179.2 431.2,179.1 431.6,179.1 432.0,179.2 432.4,179.2 432.8,179.1 433.2,179.2 433.6,179.1 434.0,179.1 434.4,179.1 434.8,179.1 435.2,178.9 435.6,174.9 436.0,170.1 436.4,164.9 436.8,159.4 436.9,157.9 437.2,162.2 437.6,167.6 438.0,172.5 438.4,177.1 438.8,179.1 439.2,179.2 439.6,179.1" stroke="#57d4aa" stroke-width="1.0" fill="#8fe3c8" fill-opacity="0.75"/>
</g>
<path d="M151 197.5 V207.6" stroke="#d1d5db" stroke-width="0.6"/>
<rect x="308.4" y="198" width="34.2" height="9.6" fill="url(#dots)"/>
<rect x="308.2" y="198" width="1.4" height="9.6" fill="#43a4f0"/><rect x="341.4" y="198" width="1.4" height="9.6" fill="#43a4f0"/>
<polyline points="151.0,207.0 152.4,207.0 153.7,206.0 155.0,207.0 163.5,207.0 164.8,205.8 166.1,207.0 185.1,207.0 186.4,206.0 187.7,207.0 189.2,207.0 190.5,205.5 191.8,207.0 193.3,207.0 194.6,202.0 195.9,207.0 207.9,207.0 209.2,206.0 210.5,207.0 213.2,207.0 214.5,204.0 215.8,207.0 225.2,207.0 226.5,201.5 227.8,207.0 231.2,207.0 232.5,204.0 233.2,207.0 233.8,207.0 234.5,202.3 235.8,207.0 254.1,207.0 255.4,199.5 256.5,207.0 256.7,207.0 257.8,204.0 259.1,207.0 278.7,207.0 280.0,204.0 281.3,207.0 282.2,207.0 283.5,205.0 284.8,207.0 294.3,207.0 295.6,205.0 296.9,207.0 318.7,207.0 320.0,206.0 321.3,207.0 326.7,207.0 328.0,205.5 329.3,207.0 332.7,207.0 334.0,200.8 335.3,207.0 337.7,207.0 339.0,205.0 340.3,207.0 348.4,207.0 349.7,204.5 351.0,207.0 352.0,207.0 353.3,200.0 354.6,207.0 357.5,207.0 358.8,200.0 360.1,207.0 371.2,207.0 372.5,206.0 373.7,207.0 373.8,207.0 375.0,198.0 376.3,207.0 379.7,207.0 381.0,205.5 382.3,207.0 401.3,207.0 402.6,205.5 403.9,207.0 415.7,207.0 417.0,205.0 418.3,207.0 418.7,207.0 420.0,202.0 421.3,207.0 422.7,207.0 424.0,205.0 425.3,207.0 427.2,207.0 428.5,203.0 429.8,207.0 440.0,207.0" fill="none" stroke="#4dd0a4" stroke-width="0.8"/>
<rect x="140" y="219.1" width="187.6" height="129.2" rx="3" fill="#fff"/>
<path d="M140 233.2 V222.1 Q140 219.1 143 219.1 H324.6 Q327.6 219.1 327.6 222.1 V233.2 Z" fill="#1e2b5a"/>
<text x="146.0" y="228.28" font-size="5.4" font-weight="700" fill="#fff" text-anchor="start" textLength="39.0" lengthAdjust="spacingAndGlyphs" >Reactive Energy</text>
<polygon points="321.80,226.15 320.15,229.01 316.85,229.01 315.20,226.15 316.85,223.29 320.15,223.29" fill="rgba(255,255,255,0.28)" stroke="#fff" stroke-width="0.85" stroke-linejoin="round"/><path d="M319.63 226.80 L321.07 227.64 M318.50 227.45 L318.50 229.12 M317.37 226.80 L315.93 227.64 M317.37 225.50 L315.93 224.66 M318.50 224.85 L318.50 223.18 M319.63 225.50 L321.07 224.66" stroke="#fff" stroke-width="0.5" opacity="0.8"/><circle cx="318.5" cy="226.15" r="1.25" fill="#1e2b5a" stroke="#fff" stroke-width="0.6"/>
<g fill="#3b6fd6"><circle cx="316.4" cy="241.5" r="0.7"/><circle cx="318.4" cy="241.5" r="0.7"/><circle cx="320.4" cy="241.5" r="0.7"/></g>
<text x="146.0" y="255.39" font-size="4.5" font-weight="400" fill="#868c97" text-anchor="start" textLength="14.4" lengthAdjust="spacingAndGlyphs" >12 kWh</text>
<path d="M165.5 253.8 H322.6" stroke="#e9ebef" stroke-width="0.6"/>
<text x="146.0" y="281.03" font-size="4.5" font-weight="400" fill="#868c97" text-anchor="start" textLength="12.2" lengthAdjust="spacingAndGlyphs" >8 kWh</text>
<path d="M165.5 279.4 H322.6" stroke="#e9ebef" stroke-width="0.6"/>
<text x="146.0" y="306.67" font-size="4.5" font-weight="400" fill="#868c97" text-anchor="start" textLength="12.2" lengthAdjust="spacingAndGlyphs" >4 kWh</text>
<path d="M165.5 305.1 H322.6" stroke="#e9ebef" stroke-width="0.6"/>
<text x="156.0" y="332.31" font-size="4.5" font-weight="400" fill="#868c97" text-anchor="start" >0</text>
<text x="173.3" y="342.21" font-size="4.5" font-weight="400" fill="#868c97" text-anchor="middle" >Jan 1</text>
<text x="193.2" y="342.21" font-size="4.5" font-weight="400" fill="#868c97" text-anchor="middle" >Jan 5</text>
<text x="212.7" y="342.21" font-size="4.5" font-weight="400" fill="#868c97" text-anchor="middle" >Jan 9</text>
<text x="232.5" y="342.21" font-size="4.5" font-weight="400" fill="#868c97" text-anchor="middle" >Jan 13</text>
<text x="252.0" y="342.21" font-size="4.5" font-weight="400" fill="#868c97" text-anchor="middle" >Jan 17</text>
<text x="271.5" y="342.21" font-size="4.5" font-weight="400" fill="#868c97" text-anchor="middle" >Jan 21</text>
<text x="291.7" y="342.21" font-size="4.5" font-weight="400" fill="#868c97" text-anchor="middle" >Jan 25</text>
<text x="311.2" y="342.21" font-size="4.5" font-weight="400" fill="#868c97" text-anchor="middle" >Jan 29</text>
<polygon points="162.7,268.4 164.9,273.7 166.7,270.1 169.0,276.4 170.8,277.3 171.7,306.0 173.0,305.2 174.8,313.3 176.2,299.0 177.5,288.0 180.1,281.8 181.9,287.2 182.3,277.3 184.6,272.8 186.5,276.0 188.2,271.0 190.0,277.0 191.5,272.0 193.3,274.0 194.2,282.0 194.9,310.0 196.3,313.0 198.1,302.0 200.8,300.0 201.7,282.0 205.8,273.0 208.0,273.5 210.7,267.5 212.5,271.0 214.3,266.5 216.0,274.0 217.3,272.0 218.8,311.5 220.5,312.0 221.5,297.0 225.0,291.7 226.5,268.4 227.8,266.5 232.2,270.1 237.9,272.0 240.0,274.6 247.2,281.0 247.7,271.0 249.0,275.5 250.8,272.8 253.5,273.7 255.3,270.1 257.0,271.0 259.8,266.5 261.5,272.0 263.3,275.5 265.1,272.8 267.0,274.6 269.6,276.4 273.2,276.4 274.1,272.8 276.0,272.0 276.8,267.5 278.6,272.8 280.4,269.2 282.2,272.8 284.9,272.8 285.8,267.5 287.6,272.8 289.4,276.4 291.2,300.7 292.5,304.3 293.9,302.5 295.3,288.0 296.0,268.4 297.5,271.0 298.9,281.0 300.2,299.0 302.0,291.7 302.9,271.0 304.7,272.0 306.1,268.4 307.4,272.0 308.6,267.5 310.4,271.0 312.7,274.6 314.5,277.3 315.4,297.0 316.9,308.8 319.0,304.3 320.8,301.6 322.3,304.3 322.3,332.4 162.7,332.4" fill="#c5e6fb"/>
<polygon points="162.7,308.8 167.6,308.8 169.0,299.0 169.7,308.8 173.0,311.5 174.4,315.0 175.7,299.0 176.9,287.2 179.3,281.0 181.0,286.3 181.9,299.0 182.8,308.8 193.6,310.6 194.9,314.2 196.7,302.5 199.0,301.6 200.8,281.8 203.9,281.8 205.3,299.0 207.1,308.8 210.7,307.9 216.0,307.9 217.9,312.4 219.7,314.2 221.5,299.0 224.2,293.5 226.5,281.0 228.6,281.8 229.5,308.8 239.4,310.6 240.0,312.4 248.1,312.9 251.7,309.7 254.4,308.8 258.0,309.3 260.1,307.5 263.3,312.9 273.2,312.9 276.0,307.9 278.6,309.7 283.1,310.0 286.7,312.4 288.9,313.3 289.9,301.6 291.2,304.3 292.5,308.8 294.8,306.1 296.6,291.7 297.8,285.4 298.9,299.0 300.2,306.1 302.0,307.9 309.2,308.8 311.9,312.4 313.6,313.3 314.5,299.0 315.4,306.1 316.3,314.2 318.1,309.7 320.8,308.8 322.3,314.2 322.3,332.4 162.7,332.4" fill="#8ee3cb"/>
<polyline points="162.7,268.4 164.9,273.7 166.7,270.1 169.0,276.4 170.8,277.3 171.7,306.0 173.0,305.2 174.8,313.3 176.2,299.0 177.5,288.0 180.1,281.8 181.9,287.2 182.3,277.3 184.6,272.8 186.5,276.0 188.2,271.0 190.0,277.0 191.5,272.0 193.3,274.0 194.2,282.0 194.9,310.0 196.3,313.0 198.1,302.0 200.8,300.0 201.7,282.0 205.8,273.0 208.0,273.5 210.7,267.5 212.5,271.0 214.3,266.5 216.0,274.0 217.3,272.0 218.8,311.5 220.5,312.0 221.5,297.0 225.0,291.7 226.5,268.4 227.8,266.5 232.2,270.1 237.9,272.0 240.0,274.6 247.2,281.0 247.7,271.0 249.0,275.5 250.8,272.8 253.5,273.7 255.3,270.1 257.0,271.0 259.8,266.5 261.5,272.0 263.3,275.5 265.1,272.8 267.0,274.6 269.6,276.4 273.2,276.4 274.1,272.8 276.0,272.0 276.8,267.5 278.6,272.8 280.4,269.2 282.2,272.8 284.9,272.8 285.8,267.5 287.6,272.8 289.4,276.4 291.2,300.7 292.5,304.3 293.9,302.5 295.3,288.0 296.0,268.4 297.5,271.0 298.9,281.0 300.2,299.0 302.0,291.7 302.9,271.0 304.7,272.0 306.1,268.4 307.4,272.0 308.6,267.5 310.4,271.0 312.7,274.6 314.5,277.3 315.4,297.0 316.9,308.8 319.0,304.3 320.8,301.6 322.3,304.3" fill="none" stroke="#2f9df0" stroke-width="1.1" stroke-linejoin="round"/>
<polyline points="162.7,308.8 167.6,308.8 169.0,299.0 169.7,308.8 173.0,311.5 174.4,315.0 175.7,299.0 176.9,287.2 179.3,281.0 181.0,286.3 181.9,299.0 182.8,308.8 193.6,310.6 194.9,314.2 196.7,302.5 199.0,301.6 200.8,281.8 203.9,281.8 205.3,299.0 207.1,308.8 210.7,307.9 216.0,307.9 217.9,312.4 219.7,314.2 221.5,299.0 224.2,293.5 226.5,281.0 228.6,281.8 229.5,308.8 239.4,310.6 240.0,312.4 248.1,312.9 251.7,309.7 254.4,308.8 258.0,309.3 260.1,307.5 263.3,312.9 273.2,312.9 276.0,307.9 278.6,309.7 283.1,310.0 286.7,312.4 288.9,313.3 289.9,301.6 291.2,304.3 292.5,308.8 294.8,306.1 296.6,291.7 297.8,285.4 298.9,299.0 300.2,306.1 302.0,307.9 309.2,308.8 311.9,312.4 313.6,313.3 314.5,299.0 315.4,306.1 316.3,314.2 318.1,309.7 320.8,308.8 322.3,314.2" fill="none" stroke="#58d3a9" stroke-width="0.9" stroke-linejoin="round"/>
<rect x="333.3" y="219.1" width="188.2" height="129.2" rx="3" fill="#fff"/>
<path d="M333.3 233.2 V222.1 Q333.3 219.1 336.3 219.1 H518.5 Q521.5 219.1 521.5 222.1 V233.2 Z" fill="#1e2b5a"/>
<text x="339.3" y="228.28" font-size="5.4" font-weight="700" fill="#fff" text-anchor="start" textLength="84.2" lengthAdjust="spacingAndGlyphs" >Weekly Consumption Percentages</text>
<circle cx="382.3" cy="296.3" r="34.7" fill="#d6595c"/>
<path d="M382.3 296.3 L415.21 285.29 A34.7 34.7 0 0 0 367.09 265.11 Z" fill="#fbbfc0"/>
<path d="M382.3 296.3 L367.09 265.11 A34.7 34.7 0 0 0 349.26 285.69 Z" fill="#b64347"/>
<rect x="385.5" y="273" width="14.100000000000023" height="8.600000000000023" rx="1.5" fill="rgba(255,255,255,0.6)"/>
<text x="392.6" y="279.19" font-size="5" font-weight="700" fill="#374151" text-anchor="middle" >% 24</text>
<rect x="357.4" y="276.4" width="12.800000000000011" height="8.800000000000011" rx="1.5" fill="rgba(255,255,255,0.45)"/>
<text x="363.8" y="282.69" font-size="5" font-weight="700" fill="#374151" text-anchor="middle" >% 12</text>
<rect x="375.3" y="309" width="13.699999999999989" height="9" rx="1.5" fill="rgba(255,255,255,0.45)"/>
<text x="382.1" y="315.39" font-size="5" font-weight="700" fill="#374151" text-anchor="middle" >% 64</text>
<text x="479.0" y="286.81" font-size="4.5" font-weight="400" fill="#6b7280" text-anchor="start" textLength="16.3" lengthAdjust="spacingAndGlyphs" >Meter-3</text>
<rect x="499" y="281.59999999999997" width="8" height="7.2" rx="1.6" fill="#f9bdbd"/>
<text x="479.0" y="297.91" font-size="4.5" font-weight="400" fill="#6b7280" text-anchor="start" textLength="16.3" lengthAdjust="spacingAndGlyphs" >Meter-2</text>
<rect x="499" y="292.7" width="8" height="7.2" rx="1.6" fill="#d6595c"/>
<text x="479.0" y="309.41" font-size="4.5" font-weight="400" fill="#6b7280" text-anchor="start" textLength="16.3" lengthAdjust="spacingAndGlyphs" >Meter-4</text>
<rect x="499" y="304.2" width="8" height="7.2" rx="1.6" fill="#b64347"/>
<rect x="140" y="354" width="381.5" height="60" rx="3" fill="#fff"/>
<path d="M140 367.8 V357 Q140 354 143 354 H518.5 Q521.5 354 521.5 357 V367.8 Z" fill="#1e2b5a"/>
<text x="146.0" y="363.03" font-size="5.4" font-weight="700" fill="#fff" text-anchor="start" textLength="55.0" lengthAdjust="spacingAndGlyphs" >Section 1 Meters Table</text>
<rect x="145.7" y="386.2" width="376" height="11.7" fill="#f3f4f6"/>
<text x="147.5" y="393.38" font-size="4.4" font-weight="700" fill="#687080" text-anchor="start" textLength="27.0" lengthAdjust="spacingAndGlyphs" >ASSET NAME</text>
<path d="M178.5 390.1 H182.7 L180.6 392.5 Z" fill="#4b5563"/>
<text x="199.8" y="393.38" font-size="4.4" font-weight="700" fill="#687080" text-anchor="start" textLength="25.0" lengthAdjust="spacingAndGlyphs" >FIELD NAME</text>
<path d="M228.70000000000002 390.1 H232.9 L230.8 392.5 Z" fill="#4b5563"/>
<text x="250.0" y="393.38" font-size="4.4" font-weight="700" fill="#687080" text-anchor="start" textLength="16.2" lengthAdjust="spacingAndGlyphs" >STATUS</text>
<path d="M269.7 390.1 H273.90000000000003 L271.8 392.5 Z" fill="#4b5563"/>
<text x="290.4" y="393.38" font-size="4.4" font-weight="700" fill="#687080" text-anchor="start" textLength="13.8" lengthAdjust="spacingAndGlyphs" >VALUE</text>
<path d="M308.4 390.1 H312.6 L310.5 392.5 Z" fill="#4b5563"/>
<text x="329.5" y="393.38" font-size="4.4" font-weight="700" fill="#687080" text-anchor="start" textLength="14.7" lengthAdjust="spacingAndGlyphs" >ALARM</text>
<path d="M348.4 390.1 H352.6 L350.5 392.5 Z" fill="#4b5563"/>
<text x="369.4" y="393.38" font-size="4.4" font-weight="700" fill="#687080" text-anchor="start" textLength="19.7" lengthAdjust="spacingAndGlyphs" >MIN-MAX</text>
</g>
<rect x="130.6" y="198.5" width="7.4" height="30.2" rx="2.6" fill="#fff"/>
<path d="M135.4 212 L133.6 214 L135.4 216" fill="none" stroke="#2f5fd0" stroke-width="1.1"/>
</svg>
<div class="sh" style="left:430px;top:145px;width:198px;height:137px;border-radius:6px;box-shadow:-5px 3px 14px rgba(0,0,0,0.085);background:#fff"></div>
<div class="sh" style="left:392.9px;top:331.6px;width:198px;height:133.9px;border-radius:6px;box-shadow:0 16px 30px -6px rgba(0,0,0,0.22), 0 0 22px rgba(0,0,0,0.06);background:#fff"></div>
<svg width="666" height="529" viewBox="0 0 666 529">
<defs><clipPath id="c1"><rect x="430" y="145" width="198" height="137.2" rx="6"/></clipPath><clipPath id="c2"><rect x="392.9" y="331.6" width="198" height="133.9" rx="6"/></clipPath></defs>
<g clip-path="url(#c1)">
<rect x="430" y="145" width="198" height="138" fill="#fff"/>
<rect x="430" y="145" width="198" height="15.2" fill="#1e2b5a"/>
<text x="434.3" y="154.80" font-size="5.6" font-weight="700" fill="#fff" text-anchor="start" textLength="50.8" lengthAdjust="spacingAndGlyphs" >Single Line Scheme</text>
<polygon points="621.90,152.80 620.20,155.74 616.80,155.74 615.10,152.80 616.80,149.86 620.20,149.86" fill="rgba(255,255,255,0.28)" stroke="#fff" stroke-width="0.85" stroke-linejoin="round"/><path d="M619.63 153.45 L621.15 154.33 M618.50 154.10 L618.50 155.86 M617.37 153.45 L615.85 154.33 M617.37 152.15 L615.85 151.27 M618.50 151.50 L618.50 149.74 M619.63 152.15 L621.15 151.27" stroke="#fff" stroke-width="0.5" opacity="0.8"/><circle cx="618.5" cy="152.8" r="1.25" fill="#1e2b5a" stroke="#fff" stroke-width="0.6"/>
<path d="M539.4 171 H550.6 L545 178.6 Z" fill="#5282db"/>
<text x="557.0" y="176.51" font-size="4.5" font-weight="400" fill="#1f2937" text-anchor="start" textLength="28.0" lengthAdjust="spacingAndGlyphs" stroke="#1f2937" stroke-width="0.15">Grid/Network</text>
<path d="M545 178.6 V204.8" stroke="#b4cbee" stroke-width="0.7" stroke-dasharray="1.4 1"/>
<path d="M447 222.5 H616.5" stroke="#c4d8f3" stroke-width="0.75"/>
<path d="M440 247.4 H504.2" stroke="#7397de" stroke-width="0.55"/>
<text x="448.0" y="219.79" font-size="5" font-weight="400" fill="#1f2937" text-anchor="start" textLength="26.3" lengthAdjust="spacingAndGlyphs" >Main Busbar</text>
<path d="M544.9 204 V204.79999999999998" stroke="#7397de" stroke-width="0.5"/>
<rect x="543.0" y="204.79999999999998" width="3.8" height="3.8" fill="#fff" stroke="#b4cbee" stroke-width="0.6"/>
<path d="M543.0 206.1 H546.8 M543.6999999999999 206.89999999999998 L546.1 208.39999999999998 M546.1 206.89999999999998 L543.6999999999999 208.39999999999998" stroke="#b4cbee" stroke-width="0.45"/>
<path d="M548.6 211.0 L544.9 216.29999999999998 V222.4" fill="none" stroke="#7397de" stroke-width="0.55"/>
<text x="553.8" y="210.78" font-size="4.4" font-weight="400" fill="#1f2937" text-anchor="start" textLength="13.6" lengthAdjust="spacingAndGlyphs" >Meter-1</text>
<path d="M482.7 222.4 V229.7" stroke="#7397de" stroke-width="0.5"/>
<rect x="480.8" y="229.7" width="3.8" height="3.8" fill="#fff" stroke="#b4cbee" stroke-width="0.6"/>
<path d="M480.8 231.0 H484.59999999999997 M481.5 231.79999999999998 L483.9 233.29999999999998 M483.9 231.79999999999998 L481.5 233.29999999999998" stroke="#b4cbee" stroke-width="0.45"/>
<path d="M486.4 236.0 L482.7 239.6 V247.4" fill="none" stroke="#7397de" stroke-width="0.55"/>
<text x="488.7" y="236.08" font-size="4.4" font-weight="400" fill="#1f2937" text-anchor="start" textLength="13.4" lengthAdjust="spacingAndGlyphs" >Meter-2</text>
<path d="M518.6 222.4 V229.7" stroke="#7397de" stroke-width="0.5"/>
<rect x="516.7" y="229.7" width="3.8" height="3.8" fill="#fff" stroke="#b4cbee" stroke-width="0.6"/>
<path d="M516.7 231.0 H520.5 M517.4 231.79999999999998 L519.8000000000001 233.29999999999998 M519.8000000000001 231.79999999999998 L517.4 233.29999999999998" stroke="#b4cbee" stroke-width="0.45"/>
<path d="M522.3000000000001 236.0 L518.6 239.6 V247.6" fill="none" stroke="#7397de" stroke-width="0.55"/>
<path d="M517.2 247.29999999999998 H520.0 L518.6 249.79999999999998 Z" fill="#4a78d4"/>
<text x="524.0" y="236.08" font-size="4.4" font-weight="400" fill="#1f2937" text-anchor="start" textLength="13.6" lengthAdjust="spacingAndGlyphs" >Meter-3</text>
<path d="M579.5 222.4 V229.7" stroke="#7397de" stroke-width="0.5"/>
<rect x="577.6" y="229.7" width="3.8" height="3.8" fill="#fff" stroke="#b4cbee" stroke-width="0.6"/>
<path d="M577.6 231.0 H581.4 M578.3 231.79999999999998 L580.7 233.29999999999998 M580.7 231.79999999999998 L578.3 233.29999999999998" stroke="#b4cbee" stroke-width="0.45"/>
<path d="M583.2 236.0 L579.5 239.6 V247.6" fill="none" stroke="#7397de" stroke-width="0.55"/>
<path d="M578.1 247.29999999999998 H580.9 L579.5 249.79999999999998 Z" fill="#4a78d4"/>
<text x="585.2" y="236.98" font-size="4.4" font-weight="400" fill="#1f2937" text-anchor="start" textLength="13.6" lengthAdjust="spacingAndGlyphs" >Meter-4</text>
<path d="M442.4 247.4 V254.1" stroke="#7397de" stroke-width="0.5"/>
<rect x="440.5" y="254.1" width="3.8" height="3.8" fill="#fff" stroke="#b4cbee" stroke-width="0.6"/>
<path d="M440.5 255.4 H444.29999999999995 M441.2 256.2 L443.59999999999997 257.7 M443.59999999999997 256.2 L441.2 257.7" stroke="#b4cbee" stroke-width="0.45"/>
<path d="M446.09999999999997 260.9 L442.4 265.9 V272.2" fill="none" stroke="#7397de" stroke-width="0.55"/>
<path d="M441.0 271.9 H443.79999999999995 L442.4 274.4 Z" fill="#4a78d4"/>
<text x="448.3" y="260.48" font-size="4.4" font-weight="700" fill="#1f2937" text-anchor="start" textLength="13.8" lengthAdjust="spacingAndGlyphs" >Meter-5</text>
<path d="M466.2 247.4 V254.1" stroke="#7397de" stroke-width="0.5"/>
<rect x="464.3" y="254.1" width="3.8" height="3.8" fill="#fff" stroke="#b4cbee" stroke-width="0.6"/>
<path d="M464.3 255.4 H468.09999999999997 M465.0 256.2 L467.4 257.7 M467.4 256.2 L465.0 257.7" stroke="#b4cbee" stroke-width="0.45"/>
<path d="M469.9 260.9 L466.2 265.9 V272.2" fill="none" stroke="#7397de" stroke-width="0.55"/>
<path d="M464.8 271.9 H467.59999999999997 L466.2 274.4 Z" fill="#4a78d4"/>
<text x="471.9" y="260.48" font-size="4.4" font-weight="700" fill="#1f2937" text-anchor="start" textLength="13.4" lengthAdjust="spacingAndGlyphs" >Meter-6</text>
<path d="M496.8 247.4 V254.1" stroke="#7397de" stroke-width="0.5"/>
<rect x="494.90000000000003" y="254.1" width="3.8" height="3.8" fill="#fff" stroke="#b4cbee" stroke-width="0.6"/>
<path d="M494.90000000000003 255.4 H498.7 M495.6 256.2 L498.0 257.7 M498.0 256.2 L495.6 257.7" stroke="#b4cbee" stroke-width="0.45"/>
<path d="M500.5 260.9 L496.8 265.9 V272.2" fill="none" stroke="#7397de" stroke-width="0.55"/>
<path d="M495.40000000000003 271.9 H498.2 L496.8 274.4 Z" fill="#4a78d4"/>
<text x="502.6" y="260.48" font-size="4.4" font-weight="700" fill="#1f2937" text-anchor="start" textLength="13.4" lengthAdjust="spacingAndGlyphs" >Meter-7</text>
<path d="M531 187.4 H589.5 Q592.5 187.4 592.5 190.4 V198.4 Q592.5 201.4 589.5 201.4 H563.6 L560 205.2 L556.4 201.4 H531 Q528 201.4 528 198.4 V190.4 Q528 187.4 531 187.4 Z" fill="#6a6d78"/>
<path d="M534.2 191.9 Q536.2 193.6 536 195 Q535.8 196.5 534.2 196.5 Q532.5 196.5 532.4 195 Q532.3 193.8 533.3 193.2 Q533.5 192.6 534.2 191.9 Z" fill="#e4474c"/>
<text x="538.0" y="195.94" font-size="4.3" font-weight="400" fill="#eceef2" text-anchor="start" textLength="23.0" lengthAdjust="spacingAndGlyphs" >254.032 kWh</text>
<rect x="563.3" y="191.2" width="25.9" height="6.6" rx="1" fill="#7c8292"/>
<text x="564.8" y="196.04" font-size="4.3" font-weight="400" fill="#dde0e7" text-anchor="start" textLength="23.0" lengthAdjust="spacingAndGlyphs" >Active Power</text>
<text x="593.4" y="194.35" font-size="4.6" font-weight="700" fill="#1f2937" text-anchor="start" >r</text>
<rect x="610.4" y="253" width="11.8" height="11.4" rx="1.6" fill="#fff" stroke="#eceef1" stroke-width="0.6"/><path d="M613 258.8 H619.6 M616.3 255.5 V262.1" stroke="#6b7280" stroke-width="0.8"/>
<rect x="610.4" y="268.5" width="11.8" height="11.8" rx="1.6" fill="#fff" stroke="#eceef1" stroke-width="0.6"/><path d="M613 274.2 H619.6" stroke="#6b7280" stroke-width="0.9"/>
</g>
<g clip-path="url(#c2)">
<rect x="392.9" y="331.6" width="198" height="134" fill="#fff"/>
<rect x="392.9" y="331.6" width="198" height="14.7" fill="#1e2b5a"/>
<text x="397.2" y="341.23" font-size="5.4" font-weight="700" fill="#fff" text-anchor="start" textLength="89.2" lengthAdjust="spacingAndGlyphs" >Daily Consumption (Active Power)</text>
<polygon points="584.80,339.30 583.20,342.07 580.00,342.07 578.40,339.30 580.00,336.53 583.20,336.53" fill="rgba(255,255,255,0.28)" stroke="#fff" stroke-width="0.85" stroke-linejoin="round"/><path d="M582.73 339.95 L584.09 340.74 M581.60 340.60 L581.60 342.18 M580.47 339.95 L579.11 340.74 M580.47 338.65 L579.11 337.86 M581.60 338.00 L581.60 336.42 M582.73 338.65 L584.09 337.86" stroke="#fff" stroke-width="0.5" opacity="0.8"/><circle cx="581.6" cy="339.3" r="1.25" fill="#1e2b5a" stroke="#fff" stroke-width="0.6"/>
<text x="452.1" y="380.73" font-size="6.5" font-weight="400" fill="#111827" text-anchor="start" textLength="78.0" lengthAdjust="spacingAndGlyphs" stroke="#111827" stroke-width="0.18">İstanbul Ofis-Kapı-Button2</text>
<text x="418.6" y="415.3" font-size="24.6" font-weight="700" fill="#22c55e" stroke="#22c55e" stroke-width="0.4" textLength="145.3" lengthAdjust="spacingAndGlyphs">3.52 kW/ton</text>
<rect x="482.7" y="431.9" width="16.6" height="9.7" rx="1.2" fill="#e8f1eb"/>
<text x="484.4" y="438.88" font-size="5.8" font-weight="400" fill="#22c55e" text-anchor="start" textLength="13.2" lengthAdjust="spacingAndGlyphs" >Ideal</text>
</g>
</svg>
</body></html>
